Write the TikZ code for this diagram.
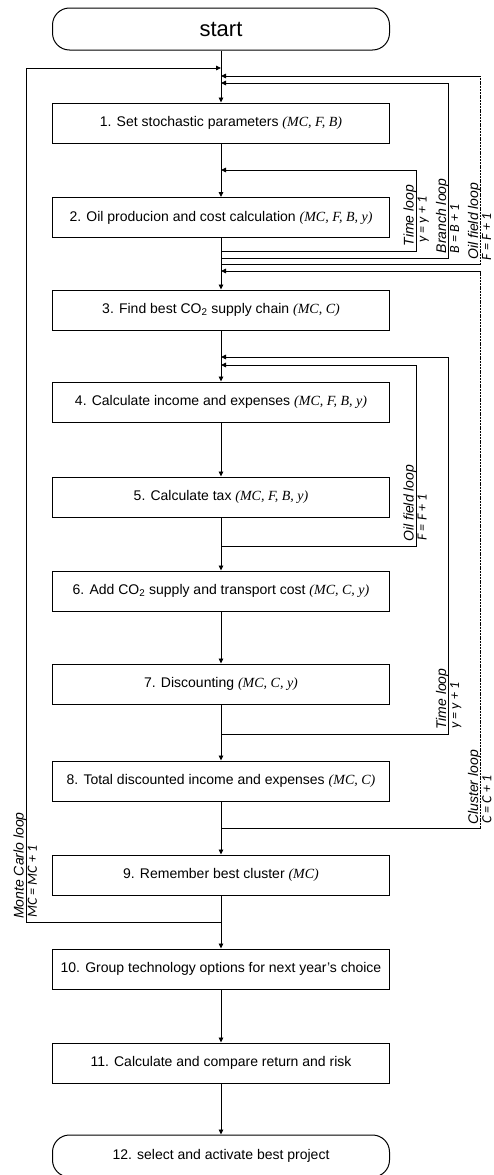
\documentclass[tikz,border=0pt]{standalone}
\usepackage{fontspec}
\setmainfont{Liberation Sans}
\newfontfamily\varfont{Liberation Serif}
\newfontfamily\eqfont{Carlito}
\usetikzlibrary{arrows.meta,calc}

% italic loop variables inside the step boxes
\newcommand{\vv}[1]{{\varfont\itshape #1}}

\tikzset{
  stepbox/.style={draw, line width=1pt, minimum width=337pt, minimum height=40pt,
    inner sep=0pt, font=\fontsize{14}{16}\selectfont},
  termbox/.style={stepbox, rounded corners=17pt, minimum height=42pt},
  flow/.style={line width=0.9pt, -{Triangle[length=5pt,width=4.5pt]}},
  back/.style={line width=0.9pt},
  thinback/.style={line width=0.7pt, dash pattern=on 2pt off 0.8pt},
  looplbl/.style={rotate=90, anchor=base west, inner sep=0pt,
    font=\itshape\fontsize{14}{16}\selectfont},
  loopeq/.style={rotate=90, anchor=north west, inner sep=1.2pt,
    font=\eqfont\itshape\fontsize{14}{16}\selectfont},
}

\begin{document}
\begin{tikzpicture}[x=1pt,y=1pt]
\useasboundingbox (0,0) rectangle (493,-1175);

% ---- main column ----
\node[termbox, font=\fontsize{22}{24}\selectfont] (start) at (221,-29) {start};
\node[stepbox] (s1) at (221,-123) {1. Set stochastic parameters \vv{(MC, F, B)}};
\node[stepbox] (s2) at (221,-217.5) {2. Oil producion and cost calculation \vv{(MC, F, B, y)}};
\node[stepbox] (s3) at (221,-310) {3. Find best CO\textsubscript{2} supply chain \vv{(MC, C)}};
\node[stepbox] (s4) at (221,-402) {4. Calculate income and expenses \vv{(MC, F, B, y)}};
\node[stepbox] (s5) at (221,-497) {5. Calculate tax \vv{(MC, F, B, y)}};
\node[stepbox] (s6) at (221,-591) {6. Add CO\textsubscript{2} supply and transport cost \vv{(MC, C, y)}};
\node[stepbox] (s7) at (221,-684) {7. Discounting \vv{(MC, C, y)}};
\node[stepbox] (s8) at (221,-781) {8. Total discounted income and expenses \vv{(MC, C)}};
\node[stepbox] (s9) at (221,-875) {9. Remember best cluster \vv{(MC)}};
\node[stepbox] (s10) at (221,-969) {10. Group technology options for next year’s choice};
\node[stepbox] (s11) at (221,-1063) {11. Calculate and compare return and risk};
\node[termbox] (s12) at (221,-1156) {12. select and activate best project};

\draw[flow] (start) -- (s1);
\foreach \a/\b in {s1/s2,s2/s3,s3/s4,s4/s5,s5/s6,s6/s7,s7/s8,s8/s9,s9/s10,s10/s11,s11/s12}
  \draw[flow] (\a) -- (\b);

% ---- x positions of the loop return lines ----
\coordinate (rA) at (416,0);
\coordinate (rB) at (448.5,0);
\coordinate (rC) at (480.5,0);
\coordinate (lM) at (26,0);

% ---- points on the main column where loops leave and re-enter ----
\coordinate (mcin)  at (221,-68);
\coordinate (ofin)  at (221,-76);
\coordinate (brin)  at (221,-83);
\coordinate (t1in)  at (221,-170);
\coordinate (t1out) at (221,-251);
\coordinate (brout) at (221,-258);
\coordinate (ofout) at (221,-264.5);
\coordinate (clin)  at (221,-271);
\coordinate (t2in)  at (221,-357);
\coordinate (of2in) at (221,-365);
\coordinate (of2out) at (221,-546);
\coordinate (t2out) at (221,-734);
\coordinate (clout) at (221,-828);
\coordinate (mcout) at (221,-922);

% time loop around step 2
\draw[back] (t1out) -- (t1out -| rA) -- (t1in -| rA);
\draw[flow] (t1in -| rA) -- (t1in);
\node[looplbl] (lt1) at ($(t1out -| rA)+(-2.5,4.5)$) {Time loop};
\node[loopeq] (et1) at ($(t1out -| rA)+(0.3,7)$) {y = y + 1};

% branch loop
\draw[back] (brout) -- (brout -| rB) -- (brin -| rB);
\draw[flow] (brin -| rB) -- (brin);
\node[looplbl] (lbr) at ($(brout -| rB)+(-2.5,4.5)$) {Branch loop};
\node[loopeq] (ebr) at ($(brout -| rB)+(0.3,3)$) {B = B + 1};

% oil field loop around steps 1-2
\draw[back] (ofout) -- (ofout -| rC);
\draw[thinback] (ofout -| rC) -- (ofin -| rC);
\draw[flow] (ofin -| rC) -- (ofin);
\node[looplbl] (lof) at ($(ofout -| rC)+(-2.5,4.5)$) {Oil field loop};
\node[loopeq] (eof) at ($(ofout -| rC)+(0.3,3)$) {F = F + 1};

% cluster loop around steps 3-8
\draw[back] (clout) -- (clout -| rC);
\draw[thinback] (clout -| rC) -- (clin -| rC);
\draw[flow] (clin -| rC) -- (clin);
\node[looplbl] (lcl) at ($(clout -| rC)+(-2.5,3)$) {Cluster loop};
\node[loopeq] (ecl) at ($(clout -| rC)+(0.3,3)$) {C = C + 1};

% time loop around steps 4-7
\draw[back] (t2out) -- (t2out -| rB) -- (t2in -| rB);
\draw[flow] (t2in -| rB) -- (t2in);
\node[looplbl] (lt2) at ($(t2out -| rB)+(-2.5,4)$) {Time loop};
\node[loopeq] (et2) at ($(t2out -| rB)+(0.3,4)$) {y = y + 1};

% oil field loop around steps 4-5
\draw[back] (of2out) -- (of2out -| rA) -- (of2in -| rA);
\draw[flow] (of2in -| rA) -- (of2in);
\node[looplbl] (lof2) at ($(of2out -| rA)+(-2.5,4)$) {Oil field loop};
\node[loopeq] (eof2) at ($(of2out -| rA)+(0.3,4)$) {F = F + 1};

% Monte Carlo loop around steps 1-9
\draw[back] (mcout) -- (mcout -| lM) -- (mcin -| lM);
\draw[flow] (mcin -| lM) -- (mcin);
\node[looplbl] (lmc) at ($(mcout -| lM)+(-2.5,3)$) {Monte Carlo loop};
\node[loopeq] (emc) at ($(mcout -| lM)+(0.3,3)$) {MC = MC + 1};
\end{tikzpicture}
\end{document}
